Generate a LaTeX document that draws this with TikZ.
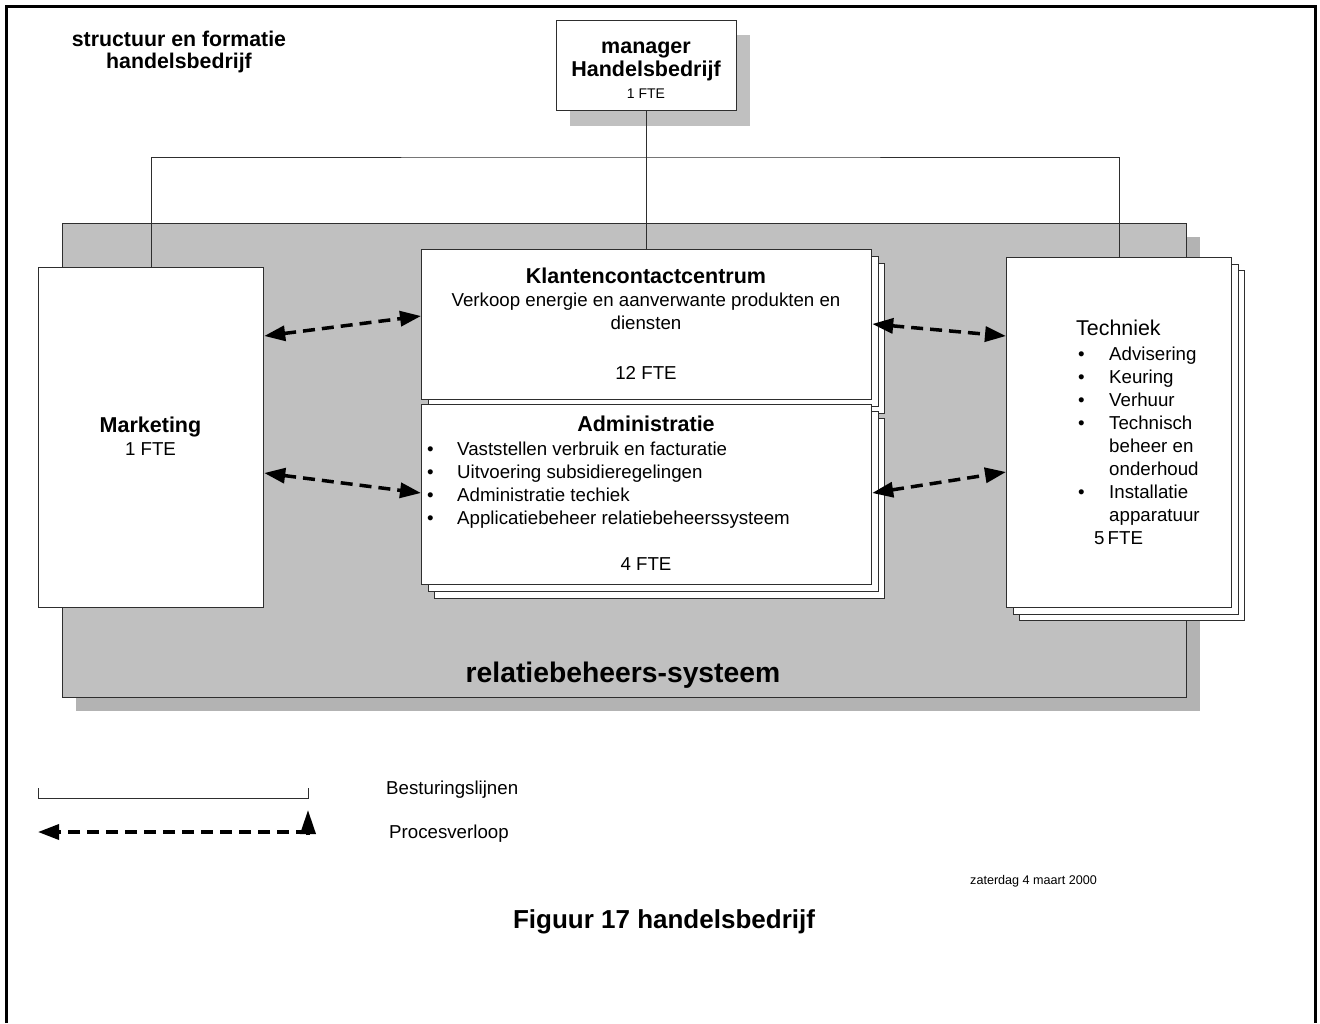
\documentclass[tikz,border=0pt]{standalone}
\usepackage{fontspec}
\setmainfont{Liberation Sans}
\usetikzlibrary{arrows.meta}

\definecolor{panelgrey}{HTML}{C0C0C0}
\definecolor{panelshadow}{HTML}{B3B3B3}
\definecolor{mgrshadow}{HTML}{C0C0C0}
\definecolor{edge}{HTML}{2E2E2E}

% font helpers (1pt = 1px of the drawing)
\newcommand{\bodyfont}{\fontsize{18.7}{23}\selectfont}
\newcommand{\headfont}{\fontsize{21.5}{23}\selectfont\bfseries}

\tikzset{
  pagebox/.style={draw=edge, line width=1.2pt, fill=white, inner sep=0pt, anchor=north west},
  ctrl/.style={draw=edge, line width=1pt},
  proc/.style={line width=3.5pt, dash pattern=on 12pt off 7pt, >={Triangle[length=21pt,width=15pt]}},
  lbl/.style={inner sep=0pt, anchor=base},
  lblw/.style={inner sep=0pt, anchor=base west},
}

\begin{document}
\begin{tikzpicture}[x=1pt, y=-1pt]
\useasboundingbox (0,0) rectangle (1320,1023);
\fill[white] (0,0) rectangle (1320,1023);

% page frame (open at the bottom)
\draw[line width=3pt] (6.5,1023) -- (6.5,6.5) -- (1315.5,6.5) -- (1315.5,1023);

% title
\node[lbl, font=\fontsize{21.3}{22}\selectfont\bfseries] (title1) at (179,46) {structuur en formatie};
\node[lbl, font=\fontsize{21.3}{22}\selectfont\bfseries] (title2) at (179,68) {handelsbedrijf};

% manager with shadow
\fill[mgrshadow] (570,35) rectangle (750,126);
\node[pagebox, minimum width=180pt, minimum height=90pt] (mgr) at (556,20) {};
\node[lbl, font=\headfont] (mgr1) at (646,53) {manager};
\node[lbl, font=\headfont] (mgr2) at (646,76) {Handelsbedrijf};
\node[lbl, font=\fontsize{14}{16}\selectfont] (mgr3) at (646,98) {1 FTE};

% grey system panel with shadow
\fill[panelshadow] (76,237) rectangle (1200,711);
\node[draw=edge, line width=1.2pt, fill=panelgrey, inner sep=0pt, anchor=north west,
      minimum width=1124pt, minimum height=474pt] (sys) at (62,223) {};
\node[lbl, font=\fontsize{28.3}{30}\selectfont\bfseries] (sysLbl) at (623,682) {relatiebeheers-systeem};

% control lines
\coordinate (bus) at (646,157);
\node[pagebox, minimum width=225pt, minimum height=340pt] (mkt) at (38,267) {};

% stacked pages: Klantencontactcentrum
\node[pagebox, minimum width=450pt, minimum height=150pt] (kccB2) at (434,263) {};
\node[pagebox, minimum width=450pt, minimum height=150pt] (kccB1) at (427.5,256) {};
\node[pagebox, minimum width=450pt, minimum height=150pt] (kcc) at (421,249) {};

% stacked pages: Administratie
\node[pagebox, minimum width=450pt, minimum height=180pt] (admB2) at (434,418) {};
\node[pagebox, minimum width=450pt, minimum height=180pt] (admB1) at (427.5,411) {};
\node[pagebox, minimum width=450pt, minimum height=180pt] (adm) at (421,404) {};

% stacked pages: Techniek
\node[pagebox, minimum width=225pt, minimum height=350pt] (techB2) at (1019,270) {};
\node[pagebox, minimum width=225pt, minimum height=350pt] (techB1) at (1012.5,263.5) {};
\node[pagebox, minimum width=225pt, minimum height=350pt] (tech) at (1006,257) {};

\draw[ctrl] (mgr.south) -- (kcc.north);
\draw[ctrl] (mkt.north) |- (bus) -| (tech.north);

% Marketing text
\node[lbl, font=\headfont] (mktHd) at (150.5,432) {Marketing};
\node[lbl, font=\bodyfont] (mktFte) at (150.5,455) {1 FTE};

% Klantencontactcentrum text
\node[lbl, font=\headfont] (kccHd) at (646,283) {Klantencontactcentrum};
\node[lbl, font=\bodyfont] (kccL1) at (646,306) {Verkoop energie en aanverwante produkten en};
\node[lbl, font=\bodyfont] (kccL2) at (646,329) {diensten};
\node[lbl, font=\bodyfont] (kccFte) at (646,379) {12 FTE};

% Administratie text
\node[lbl, font=\headfont] (admHd) at (646,431) {Administratie};
\node[lblw, font=\bodyfont] (admList) at (427,455) {\bodyfont\begin{tabular}[t]{@{}p{30pt}@{}l@{}}
  • & Vaststellen verbruik en facturatie\\
  • & Uitvoering subsidieregelingen\\
  • & Administratie techiek\\
  • & Applicatiebeheer relatiebeheerssysteem
\end{tabular}};
\node[lbl, font=\bodyfont] (admFte) at (646,570) {4 FTE};

% Techniek text
\node[lblw, font=\fontsize{21.4}{23}\selectfont] (techHd) at (1076,335) {Techniek};
\node[lblw, font=\bodyfont] (techList) at (1078,360) {\bodyfont\begin{tabular}[t]{@{}p{31pt}@{}l@{}}
  • & Advisering\\
  • & Keuring\\
  • & Verhuur\\
  • & Technisch\\
    & beheer en\\
    & onderhoud\\
  • & Installatie\\
    & apparatuur
\end{tabular}};
\node[lblw, font=\bodyfont] (techFte) at (1094,544) {5\,FTE};

% process arrows
\draw[proc, <->] ([yshift=-69pt]mkt.north east) -- ([yshift=-67pt]kcc.north west);
\draw[proc, <->] ([yshift=-206pt]mkt.north east) -- ([yshift=-89pt]adm.north west);
\draw[proc, <->] ([yshift=-75pt]kcc.north east) -- ([yshift=-79pt]tech.north west);
\draw[proc, <->] ([yshift=-89pt]adm.north east) -- ([yshift=-215pt]tech.north west);

% legend
\coordinate (ctlL) at (38,788);
\coordinate (ctlR) at (308,788);
\draw[ctrl] (ctlL) -- ++(0,10) -| (ctlR);
\node[lblw, font=\bodyfont] (ctlLbl) at (386,794) {Besturingslijnen};

\coordinate (procL) at (38,832);
\coordinate (procR) at (308,832);
\coordinate (procUp) at (308,810);
\coordinate (procFoot) at (308,835);
\draw[proc, ->] (procR) -- (procL);
\draw[line width=3.5pt, -{Triangle[length=24pt,width=15pt]}] (procFoot) -- (procUp);
\node[lblw, font=\bodyfont] (procLbl) at (389,838) {Procesverloop};

% date and caption
\node[lblw, font=\fontsize{12.6}{14}\selectfont] (date) at (970,884) {zaterdag 4 maart 2000};
\node[lbl, font=\fontsize{26}{28}\selectfont\bfseries] (caption) at (664,928) {Figuur 17 handelsbedrijf};
\end{tikzpicture}
\end{document}
